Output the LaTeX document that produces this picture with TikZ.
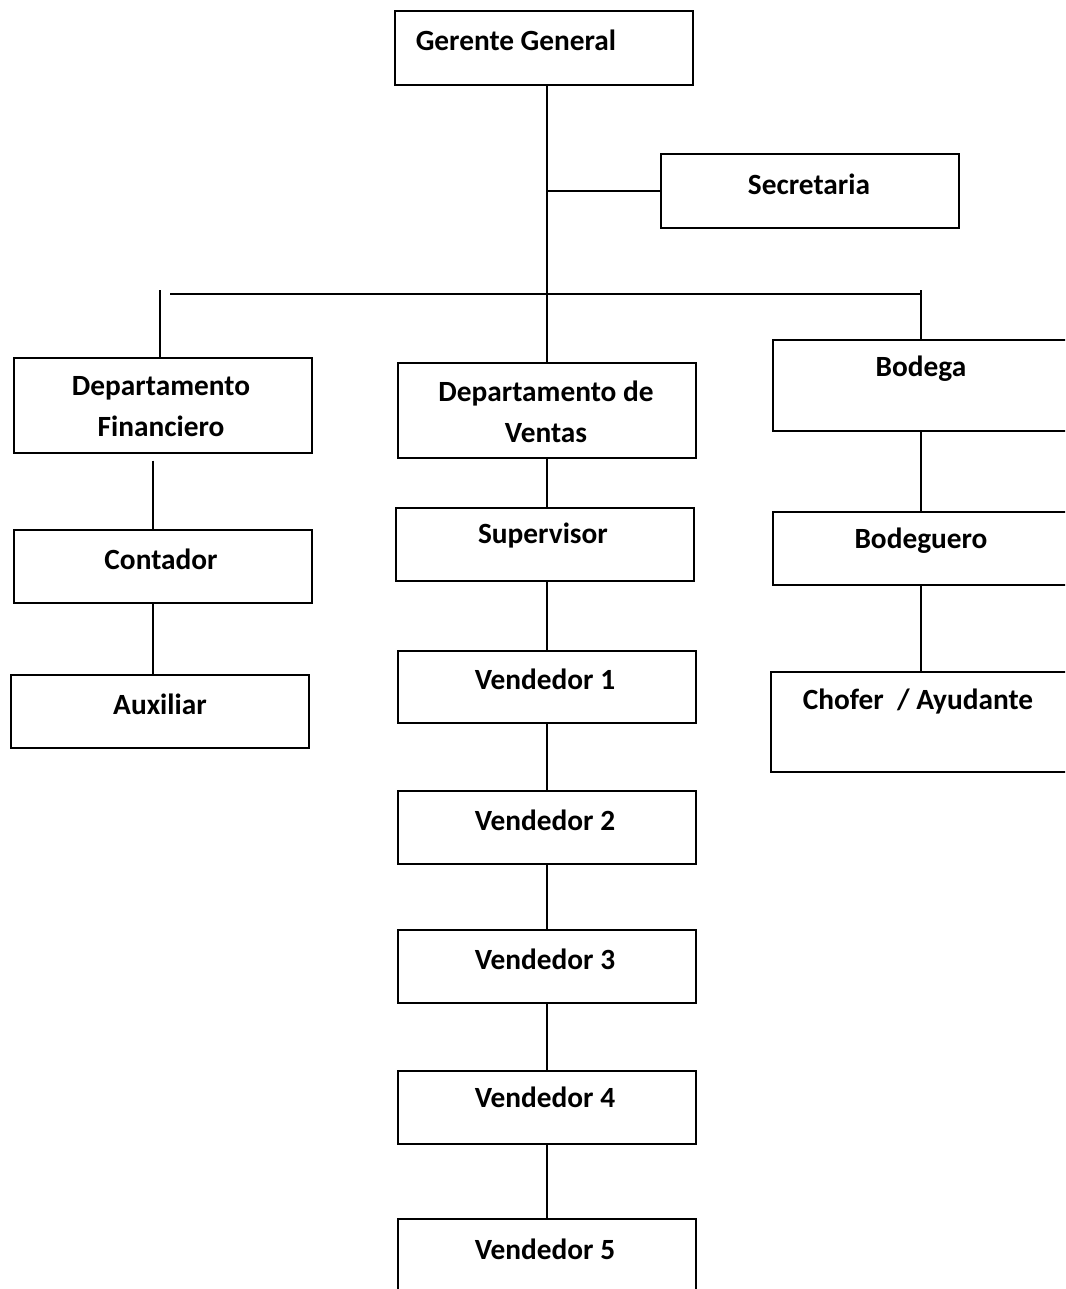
\documentclass[tikz,border=0pt]{standalone}
\usepackage{fontspec}
\setmainfont{Carlito}
\begin{document}
\begin{tikzpicture}[x=0.75pt,y=-0.75pt,
  box/.style={draw=black, line width=1.5pt, rectangle, anchor=north west, inner sep=0pt,
    minimum width=298*0.75pt, minimum height=#1*0.75pt},
  box/.default=73,
  lbl/.style={font=\fontsize{22}{30.75}\selectfont\bfseries, inner sep=0pt, align=center},
  link/.style={line width=1.3pt}]
\useasboundingbox (0,0) rectangle (1065,1289);
\clip (0,0) rectangle (1065,1289);
\fill[white] (0,0) rectangle (1065,1289);

% boxes
\node[box=74]  (gg)   at (394,10)  {};
\node[box=74]  (sec)  at (660,153) {};
\node[box=95]  (fin)  at (13,357)  {};
\node[box=95]  (vent) at (397,362) {};
\node[box=91]  (bod)  at (772,339) {};
\node[box]     (cont) at (13,529)  {};
\node[box]     (aux)  at (10,674)  {};
\node[box]     (sup)  at (395,507) {};
\node[box]     (bodg) at (772,511) {};
\node[box=100] (chof) at (770,671) {};
\node[box=72]  (v1)   at (397,650) {};
\node[box]     (v2)   at (397,790) {};
\node[box]     (v3)   at (397,929) {};
\node[box]     (v4)   at (397,1070) {};
\node[box]     (v5)   at (397,1218) {};

% labels
\node[lbl] (tgg)   at (516,40)  {Gerente General};
\node[lbl] (tsec)  at (809,184) {Secretaria};
\node[lbl] (tfin)  at (161,407) {Departamento\\Financiero};
\node[lbl] (tvent) at (546,412) {Departamento de\\Ventas};
\node[lbl] (tbod)  at (921,369) {Bodega};
\node[lbl] (tcont) at (161,559) {Contador};
\node[lbl] (taux)  at (160,704) {Auxiliar};
\node[lbl] (tsup)  at (543,536) {Supervisor};
\node[lbl] (tbodg) at (921,541) {Bodeguero};
\node[lbl] (tchof) at (918,702) {Chofer\ \ / Ayudante};
\node[lbl] (tv1)   at (545,679)  {Vendedor 1};
\node[lbl] (tv2)   at (545,820)  {Vendedor 2};
\node[lbl] (tv3)   at (545,959)  {Vendedor 3};
\node[lbl] (tv4)   at (545,1097) {Vendedor 4};
\node[lbl] (tv5)   at (545,1249) {Vendedor 5};

% connectors
\coordinate (busL) at (170,294);
\coordinate (busR) at (921,294);
\coordinate (finx) at (160,290);
\coordinate (bodx) at (921,290);
\coordinate (cx)   at (153,0);

\draw[link] (vent.north |- gg.south) -- (vent.north);
\draw[link] (sec.west) -- (sec.west -| vent.north);
\draw[link] (busL) -- (busR);
\draw[link] (finx) -- (fin.north -| finx);
\draw[link] (bodx) -- (bod.north -| bodx);
\draw[link] ([yshift=-5]fin.south -| cx) -- (cont.north -| cx);
\draw[link] (cont.south -| cx) -- (aux.north -| cx);
\draw[link] (vent.south) -- (vent.south |- sup.north);
\draw[link] (vent.south |- sup.south) -- (v1.north);
\draw[link] (v1.south) -- (v2.north);
\draw[link] (v2.south) -- (v3.north);
\draw[link] (v3.south) -- (v4.north);
\draw[link] (v4.south) -- (v5.north);
\draw[link] (bod.south -| bodx) -- (bodg.north -| bodx);
\draw[link] (bodg.south -| bodx) -- (chof.north -| bodx);
\end{tikzpicture}
\end{document}
